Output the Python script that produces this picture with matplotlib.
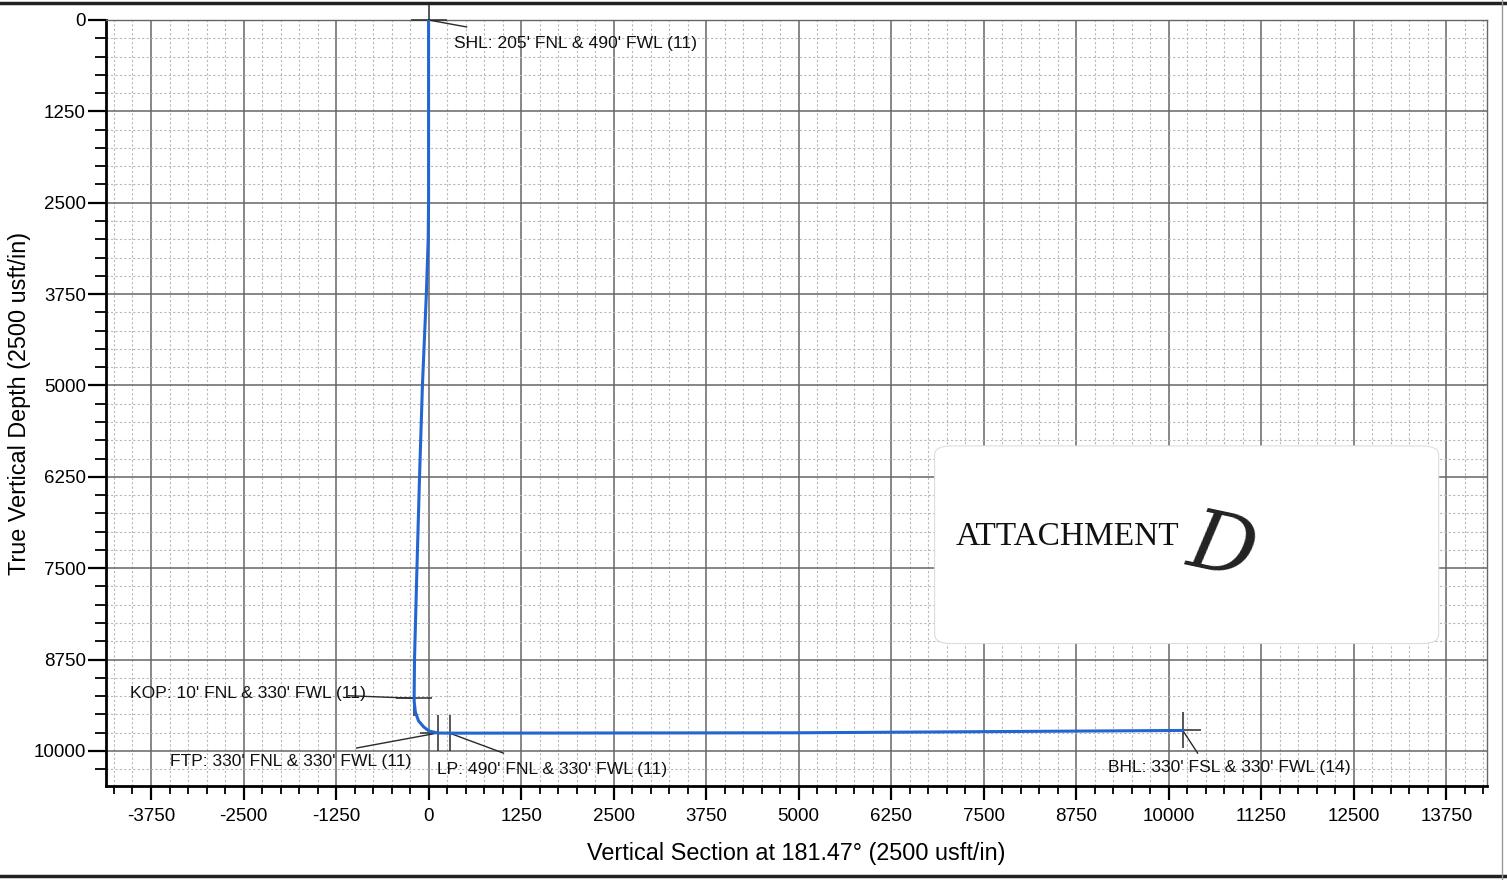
import matplotlib
matplotlib.use("Agg")
import matplotlib.pyplot as plt
from matplotlib.ticker import MultipleLocator, FixedLocator
from matplotlib.patches import FancyBboxPatch
from matplotlib.lines import Line2D

# ---- data ----
well_vs = [0, 0, -5, -30, -83, -122, -157, -190, -195, -193, -178, -135, -65, 5, 125, 285, 5000, 10190]
well_tvd = [0, 2500, 3000, 3750, 5000, 6250, 7500, 8750, 9280, 9340, 9470, 9590, 9672, 9728, 9755, 9757, 9752, 9720]

pt_names = ["SHL", "KOP", "FTP", "LP", "BHL"]
pt_vs = [0, -195, 125, 285, 10190]
pt_tvd = [0, 9280, 9755, 9757, 9720]
pt_labels = ["SHL: 205' FNL & 490' FWL (11)",
             "KOP: 10' FNL & 330' FWL (11)",
             "FTP: 330' FNL & 330' FWL (11)",
             "LP: 490' FNL & 330' FWL (11)",
             "BHL: 330' FSL & 330' FWL (14)"]
leader_vs = [513, -1080, -972, 1012, 10390]
leader_tvd = [95, 9245, 9960, 10030, 10030]
text_vs = [350, -4035, -3495, 120, 9177]
text_tvd = [315, 9210, 10150, 10250, 10230]

x_ticks = [-3750, -2500, -1250, 0, 1250, 2500, 3750, 5000, 6250, 7500, 8750, 10000, 11250, 12500, 13750]
y_ticks = [0, 1250, 2500, 3750, 5000, 6250, 7500, 8750, 10000]
x_lim = (-4358, 14300)
y_lim = (10480, 0)

plt.rcParams['font.family'] = ['Liberation Sans', 'DejaVu Sans']
plt.rcParams['axes.unicode_minus'] = False

W, H = 1507, 880
fig = plt.figure(figsize=(W / 100, H / 100), dpi=100)
ax = fig.add_axes([106 / W, 1 - 786 / H, (1487 - 106) / W, (786 - 20) / H])

ax.set_xlim(*x_lim)
ax.set_ylim(*y_lim)

ax.xaxis.set_major_locator(FixedLocator(x_ticks))
ax.yaxis.set_major_locator(FixedLocator(y_ticks))
ax.xaxis.set_minor_locator(MultipleLocator(250))
ax.yaxis.set_minor_locator(MultipleLocator(250))

ax.grid(which='major', color='#666666', lw=1.1, zorder=1)
ax.grid(which='minor', color='#b8b8b8', lw=0.8, linestyle=(0, (2, 2)), zorder=0)
ax.set_axisbelow(True)

for s in ['left', 'bottom']:
    ax.spines[s].set_linewidth(2.0)
    ax.spines[s].set_color('black')
for s in ['top', 'right']:
    ax.spines[s].set_linewidth(1.0)
    ax.spines[s].set_color('#666666')

ax.tick_params(axis='x', which='major', length=10, width=1.6, pad=6, labelsize=13.5)
ax.tick_params(axis='x', which='minor', length=5.8, width=1.3)
ax.tick_params(axis='y', which='major', length=13, width=1.6, pad=1.5, labelsize=13.5)
ax.tick_params(axis='y', which='minor', length=8, width=1.3)

ax.set_xlabel("Vertical Section at 181.47° (2500 usft/in)", fontsize=16.8, labelpad=12)
ax.set_ylabel("True Vertical Depth (2500 usft/in)", fontsize=16.8, labelpad=2)

# well path
ax.plot(well_vs, well_tvd, color='#2166d1', lw=2.2, zorder=5, solid_capstyle='round')

# point markers, leaders and labels
for i in range(len(pt_names)):
    ax.plot([pt_vs[i]], [pt_tvd[i]], marker='+', markersize=26, mew=1.1,
            color='#2a2a2a', zorder=4, clip_on=False)
    ax.plot([pt_vs[i], leader_vs[i]], [pt_tvd[i], leader_tvd[i]],
            color='#2a2a2a', lw=1.0, zorder=4)
    ax.text(text_vs[i], text_tvd[i], pt_labels[i], fontsize=12.6,
            ha='left', va='center', color='#111111', zorder=6)

# attachment stamp
box = FancyBboxPatch((0.600, 0.186), 0.365, 0.258, transform=ax.transAxes,
                     boxstyle='round,pad=0,rounding_size=0.012',
                     facecolor='white', edgecolor='#dddddd', lw=0.8, zorder=7)
ax.add_patch(box)
ax.text(0.615, 0.325, "ATTACHMENT", transform=ax.transAxes, fontsize=24,
        family=['Liberation Serif', 'DejaVu Serif'], ha='left', va='center',
        color='#111111', zorder=8)
ax.text(0.808, 0.31, "D", transform=ax.transAxes, fontsize=60,
        family=['DejaVu Serif'], style='italic', fontweight='light',
        ha='center', va='center', color='#222222', rotation=-12, zorder=8)

# page frame lines from the scan
fig.add_artist(Line2D([0, 1], [1 - 3 / H, 1 - 3 / H], transform=fig.transFigure,
                      color='#222222', lw=2.5))
fig.add_artist(Line2D([0, 1], [1 - 876 / H, 1 - 876 / H], transform=fig.transFigure,
                      color='#222222', lw=2.5))
fig.add_artist(Line2D([1502 / W, 1502 / W], [0, 1], transform=fig.transFigure,
                      color='#999999', lw=1.0))

fig.savefig("out.png", dpi=100, facecolor='white')
